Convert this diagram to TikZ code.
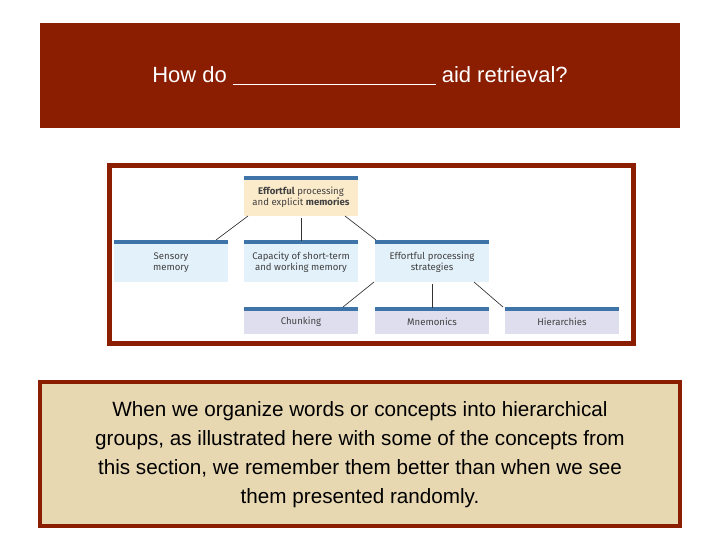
\documentclass[tikz,border=0pt]{standalone}
\usepackage{fontspec}
\setmainfont{Liberation Sans}
\newfontfamily\boxfont{Fira Sans}
\definecolor{dred}{HTML}{8B1E00}
\definecolor{bar}{HTML}{3F74A8}
\definecolor{lblue}{HTML}{E3F1FA}
\definecolor{lgray}{HTML}{DEDEEE}
\definecolor{lorange}{HTML}{FCEBCB}
\definecolor{tan}{HTML}{E8D8B2}
\begin{document}
\begin{tikzpicture}[x=0.75pt,y=-0.75pt,
  cbox/.style={minimum width=85.5pt,inner sep=0pt,align=center,font=\boxfont\fontsize{7.2}{8.6}\selectfont\color{black!75}},
  lk/.style={draw=black!80,line width=0.5pt}]
\useasboundingbox (0,0) rectangle (720,540);
\fill[white] (0,0) rectangle (720,540);
\node[fill=dred,minimum width=480pt,minimum height=78.75pt,inner sep=0pt] (title) at (360,75.5) {};
\node[font=\fontsize{16.5}{20}\selectfont\color{white}] at (360,76) {How do \underline{\hspace{152pt}} aid retrieval?};
\draw[dred,line width=4pt] (109.5,165.5) rectangle (633.5,343.5);
% boxes
\newcommand\cb[6]{%
 \fill[#5] (#2,#3) rectangle (#2+114,#4);
 \fill[bar] (#2,#3) rectangle (#2+114,#3+3.5);
 \node[cbox,minimum height={(#4-#3)*0.75pt}] (#1) at (#2+57,{(#3+#4)/2+1.5}) {#6};}
\cb{top}{244}{176}{216}{lorange}{\textbf{Effortful} processing\\and explicit \textbf{memories}}
\cb{sens}{114}{240}{282}{lblue}{Sensory\\memory}
\cb{cap}{244}{240}{282}{lblue}{Capacity of short-term\\and working memory}
\cb{str}{375}{240}{282}{lblue}{Effortful processing\\strategies}
\cb{chu}{244}{307}{334}{lgray}{Chunking}
\cb{mne}{375}{307}{334}{lgray}{Mnemonics}
\cb{hie}{505}{307}{334}{lgray}{Hierarchies}
\coordinate (t1) at (248,216); \coordinate (s1) at (216,240);
\draw[lk] (t1) -- (s1);
\draw[lk] (top.south) -- (cap.north);
\coordinate (t2) at (345,216); \coordinate (s2) at (376,240);
\draw[lk] (t2) -- (s2);
\coordinate (u1) at (374,282); \coordinate (c1) at (343,307);
\draw[lk] (u1) -- (c1);
\draw[lk] (str.south) -- (mne.north);
\coordinate (u2) at (474,282); \coordinate (h1) at (503,307);
\draw[lk] (u2) -- (h1);
\draw[dred,line width=3pt,fill=tan] (40,382) rectangle (680,526);
\node[align=center,font=\fontsize{15.5}{21.8}\selectfont] (cap2) at (360,455) {When we organize words or concepts into hierarchical\\groups, as illustrated here with some of the concepts from\\this section, we remember them better than when we see\\them presented randomly.};
\end{tikzpicture}
\end{document}
